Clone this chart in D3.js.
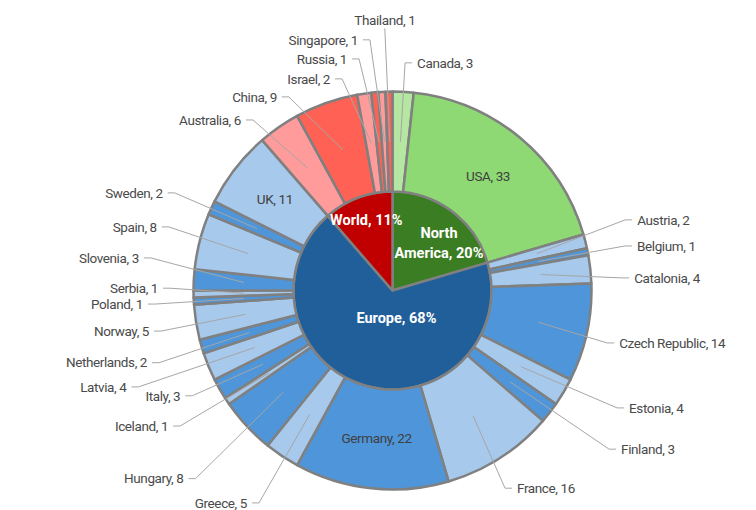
<!DOCTYPE html>
<html>
<head>
<meta charset="utf-8">
<script src="https://cdn.jsdelivr.net/npm/d3@7"></script>
<style>
  body { margin: 0; background: #fff; }
  text { font-family: "Liberation Sans Narrow", "Arial Narrow", Roboto, sans-serif; }
</style>
</head>
<body>
<div id="chart"></div>
<script>
// data
var regions = ["North America", "Europe", "World"];

var naCountries = ["Canada", "USA"];
var naValues = [3, 33];

var euCountries = ["Austria", "Belgium", "Catalonia", "Czech Republic", "Estonia", "Finland",
  "France", "Germany", "Greece", "Hungary", "Iceland", "Italy", "Latvia", "Netherlands",
  "Norway", "Poland", "Serbia", "Slovenia", "Spain", "Sweden", "UK"];
var euValues = [2, 1, 4, 14, 4, 3, 16, 22, 5, 8, 1, 3, 4, 2, 5, 1, 1, 3, 8, 2, 11];

var worldCountries = ["Australia", "China", "Israel", "Russia", "Singapore", "Thailand"];
var worldValues = [6, 9, 2, 1, 1, 1];

// colours: region, then alternating shades for its countries
var regionColors = { "North America": "#3B7D23", "Europe": "#215F9A", "World": "#C00000" };
var childColors = {
  "North America": ["#B5E6A2", "#8ED973"],
  "Europe": ["#A6C9EC", "#4E95D9"],
  "World": ["#FF9B9B", "#FF6254"]
};

// labels drawn inside their slice
var insideLabels = ["USA", "UK", "Germany"];

// hand nudges for the outside labels (Excel places them a bit irregularly)
var labelNudge = {
  "Canada": [12, 7], "Thailand": [-3.5, -35], "Singapore": [-22, -16], "Russia": [-24.5, 2.5],
  "Israel": [-29, 21], "China": [-37.5, 28], "Australia": [-17.5, 22.5],
  "Austria": [17, -12.5], "Belgium": [14, 1.3], "Catalonia": [8, 12.5], "Czech Republic": [-3, 2.5],
  "Estonia": [34.5, -2.5], "Finland": [43, 14.5], "France": [-2.5, 0], "Greece": [-15, 17],
  "Hungary": [-37, 28], "Iceland": [-29, 5], "Italy": [-8, -11], "Latvia": [-49, 6.5],
  "Netherlands": [-20, 6], "Norway": [-11.5, 3], "Poland": [-15, 1], "Serbia": [0.5, -6.5],
  "Slovenia": [-19, -20], "Spain": [-8, -5.5], "Sweden": [-16, 0]
};

var width = 756, height = 510;
var cx = 392.5, cy = 290.5;

var tree = {
  name: "root",
  children: [
    { name: regions[0], children: naCountries.map((c, i) => ({ name: c, value: naValues[i] })) },
    { name: regions[1], children: euCountries.map((c, i) => ({ name: c, value: euValues[i] })) },
    { name: regions[2], children: worldCountries.map((c, i) => ({ name: c, value: worldValues[i] })) }
  ]
};

var root = d3.hierarchy(tree).sum(d => d.value || 0);
d3.partition().size([2 * Math.PI, 3])(root);
var total = root.value;

// depth 1 -> inner pie, depth 2 -> outer ring
var radius = d3.scaleLinear().domain([1, 2, 3]).range([0, 99, 199]);

var arc = d3.arc()
  .startAngle(d => d.x0)
  .endAngle(d => d.x1)
  .innerRadius(d => radius(d.y0))
  .outerRadius(d => radius(d.y1));

function fill(d) {
  if (d.depth === 1) return regionColors[d.data.name];
  var i = d.parent.children.indexOf(d);
  return childColors[d.parent.data.name][i % 2];
}

function polar(a, r) { return [Math.sin(a) * r, -Math.cos(a) * r]; }

var svg = d3.select("#chart").append("svg")
  .attr("width", width)
  .attr("height", height);

var g = svg.append("g").attr("transform", "translate(" + cx + "," + cy + ")");

var nodes = root.descendants().filter(d => d.depth > 0);

g.selectAll("path.slice")
  .data(nodes)
  .enter().append("path")
  .attr("class", "slice")
  .attr("d", arc)
  .attr("fill", fill)
  .attr("stroke", "#808080")
  .attr("stroke-width", 2.5)
  .attr("stroke-linejoin", "round");

// outer ring labels
var leaves = root.leaves();
var outside = leaves.filter(d => insideLabels.indexOf(d.data.name) < 0);

outside.forEach(function(d) {
  var mid = (d.x0 + d.x1) / 2;
  var anchor = arc.centroid(d);
  var base = polar(mid, 235);
  var nudge = labelNudge[d.data.name] || [0, 0];
  var lx = base[0] + nudge[0], ly = base[1] + nudge[1];
  var side, pts;
  if (d.data.name === "Thailand") {
    side = "middle";
    pts = [anchor, [lx, ly + 8]];
  } else if (mid < Math.PI) {
    side = "start";
    pts = [anchor, [lx - 12, ly], [lx - 5, ly]];
  } else {
    side = "end";
    pts = [anchor, [lx + 12, ly], [lx + 5, ly]];
  }
  d.label = { x: lx, y: ly, side: side, pts: pts };
});

g.selectAll("path.leader")
  .data(outside)
  .enter().append("path")
  .attr("class", "leader")
  .attr("d", d => d3.line()(d.label.pts))
  .attr("fill", "none")
  .attr("stroke", "#A6A6A6")
  .attr("stroke-width", 1);

g.selectAll("text.outer")
  .data(outside)
  .enter().append("text")
  .attr("class", "outer")
  .attr("x", d => d.label.x)
  .attr("y", d => d.label.y)
  .attr("dy", "0.35em")
  .attr("text-anchor", d => d.label.side)
  .attr("font-size", 13.5)
  .attr("letter-spacing", -0.4)
  .attr("fill", "#4a4a4a")
  .text(d => d.data.name + ", " + d.value);

g.selectAll("text.inside")
  .data(leaves.filter(d => insideLabels.indexOf(d.data.name) >= 0))
  .enter().append("text")
  .attr("class", "inside")
  .attr("transform", d => "translate(" + arc.centroid(d) + ")")
  .attr("dy", "0.35em")
  .attr("text-anchor", "middle")
  .attr("font-size", 13.5)
  .attr("letter-spacing", -0.4)
  .attr("fill", "#404040")
  .text(d => d.data.name + ", " + d.value);

// inner pie labels
var regionNudge = { "North America": [1.5, 12], "Europe": [25, -45], "World": [0, 0] };
var regionLines = { "North America": ["North", "America, "] };

var inner = g.selectAll("text.region")
  .data(root.children)
  .enter().append("text")
  .attr("class", "region")
  .attr("transform", function(d) {
    var p = polar((d.x0 + d.x1) / 2, 75), n = regionNudge[d.data.name];
    return "translate(" + (p[0] + n[0]) + "," + (p[1] + n[1]) + ")";
  })
  .attr("text-anchor", "middle")
  .attr("font-size", 14.5)
  .attr("font-weight", "bold")
  .attr("fill", "#fff");

inner.each(function(d) {
  var pct = Math.round(d.value / total * 100) + "%";
  var t = d3.select(this);
  if (regionLines[d.data.name]) {
    var ls = regionLines[d.data.name];
    t.append("tspan").attr("x", 0).attr("dy", "-0.3em").text(ls[0]);
    t.append("tspan").attr("x", 0).attr("dy", "1.35em").text(ls[1] + pct);
  } else {
    t.append("tspan").attr("x", 0).attr("dy", "0.35em").text(d.data.name + ", " + pct);
  }
});
</script>
</body>
</html>
